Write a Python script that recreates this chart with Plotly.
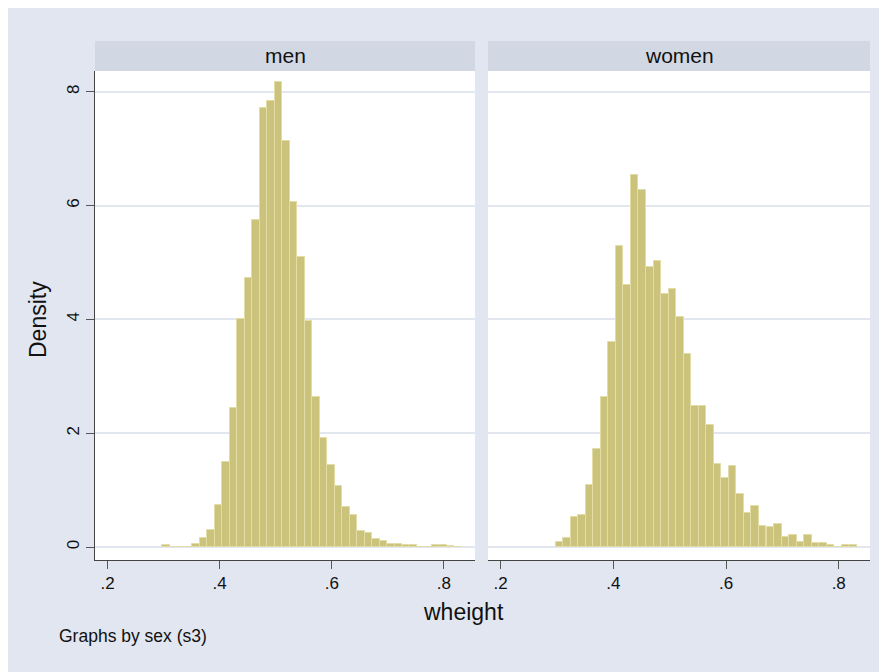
import plotly.graph_objects as go
from plotly.subplots import make_subplots

# histogram bins (common to both panels)
bin_width = 0.01337
bin_centers = [
    0.3042, 0.3176, 0.3309, 0.3443, 0.3577, 0.3710, 0.3844, 0.3978, 0.4111, 0.4245,
    0.4379, 0.4512, 0.4646, 0.4780, 0.4913, 0.5047, 0.5181, 0.5314, 0.5448, 0.5582,
    0.5715, 0.5849, 0.5983, 0.6116, 0.6250, 0.6384, 0.6517, 0.6651, 0.6785, 0.6918,
    0.7052, 0.7186, 0.7319, 0.7453, 0.7587, 0.7720, 0.7854, 0.7988, 0.8121, 0.8255,
]

men_density = [
    0.04, 0.0, 0.0, 0.0, 0.06, 0.15, 0.30, 0.73, 1.49, 2.45,
    4.00, 4.73, 5.75, 7.71, 7.84, 8.18, 7.14, 6.07, 5.10, 3.98,
    2.63, 1.92, 1.44, 1.08, 0.71, 0.57, 0.28, 0.24, 0.14, 0.10,
    0.05, 0.05, 0.04, 0.03, 0.0, 0.0, 0.04, 0.04, 0.02, 0.0,
]

women_density = [
    0.09, 0.16, 0.53, 0.56, 1.09, 1.72, 2.64, 3.61, 5.29, 4.60,
    6.53, 6.27, 4.92, 5.03, 4.45, 4.53, 4.04, 3.39, 2.48, 2.48,
    2.14, 1.46, 1.22, 1.43, 0.93, 0.59, 0.72, 0.37, 0.35, 0.40,
    0.18, 0.22, 0.09, 0.22, 0.065, 0.065, 0.035, 0.0, 0.04, 0.04,
]

panels = ["men", "women"]
x_ticks = [0.2, 0.4, 0.6, 0.8]
x_ticktext = [".2", ".4", ".6", ".8"]
y_ticks = [0, 2, 4, 6, 8]

W, H = 887, 672
OFF = 8  # page body margin
BG = "#E1E6F0"
STRIP = "#D2D8E3"
GRID = "#E1E6EF"
BAR = "#CBC37B"
BAR_EDGE = "#E2DCA6"
FONT = "Liberation Sans, Arial, sans-serif"


def px_x(p):
    return (p - OFF) / W


def px_y(p):
    return (H - (p - OFF)) / H


fig = make_subplots(rows=1, cols=2)

for i, dens in enumerate([men_density, women_density]):
    fig.add_trace(
        go.Bar(
            x=bin_centers, y=dens, width=bin_width,
            marker=dict(color=BAR, line=dict(color=BAR_EDGE, width=1)),
            showlegend=False, hoverinfo="x+y",
        ),
        row=1, col=i + 1,
    )

x_domains = [[px_x(95), px_x(475)], [px_x(488), px_x(870)]]
y_domain = [px_y(560), px_y(71)]

for i in range(2):
    fig.update_xaxes(
        domain=x_domains[i], range=[0.1775, 0.8555],
        tickvals=x_ticks, ticktext=x_ticktext,
        ticks="outside", ticklen=8, tickcolor="#555555", tickwidth=1,
        showline=True, linecolor="#444444", linewidth=1,
        showgrid=False, zeroline=False,
        tickfont=dict(family=FONT, size=17, color="#111111"),
        row=1, col=i + 1,
    )
    fig.update_yaxes(
        domain=y_domain, range=[-0.228, 8.365],
        tickvals=y_ticks, showgrid=True, gridcolor=GRID, gridwidth=1.5,
        zeroline=False,
        row=1, col=i + 1,
    )

fig.update_yaxes(
    ticks="outside", ticklen=8, tickcolor="#555555", tickwidth=1,
    showline=True, linecolor="#444444", linewidth=1,
    tickangle=-90, tickfont=dict(family=FONT, size=17, color="#111111"),
    row=1, col=1,
)
fig.update_yaxes(showticklabels=False, showline=False, ticks="", row=1, col=2)

shapes = []
annotations = []
for i, name in enumerate(panels):
    x0, x1 = x_domains[i]
    shapes.append(dict(
        type="rect", xref="paper", yref="paper", x0=x0, x1=x1,
        y0=px_y(71), y1=px_y(41), fillcolor=STRIP, line=dict(width=0),
        layer="below",
    ))
    # white plot area
    shapes.append(dict(
        type="rect", xref="paper", yref="paper", x0=x0, x1=x1,
        y0=y_domain[0], y1=y_domain[1], fillcolor="white", line=dict(width=0),
        layer="below",
    ))
    annotations.append(dict(
        text=name, xref="paper", yref="paper", x=(x0 + x1) / 2, y=px_y(56),
        xanchor="center", yanchor="middle", showarrow=False,
        font=dict(family=FONT, size=21, color="#111111"),
    ))

annotations += [
    dict(text="Density", xref="paper", yref="paper", x=px_x(38), y=px_y(320),
         xanchor="center", yanchor="middle", textangle=-90, showarrow=False,
         font=dict(family=FONT, size=23, color="#111111")),
    dict(text="wheight", xref="paper", yref="paper", x=px_x(464), y=px_y(612),
         xanchor="center", yanchor="middle", showarrow=False,
         font=dict(family=FONT, size=23, color="#111111")),
    dict(text="Graphs by sex (s3)", xref="paper", yref="paper", x=px_x(57), y=px_y(636),
         xanchor="left", yanchor="middle", showarrow=False,
         font=dict(family=FONT, size=17.5, color="#111111")),
]

fig.update_layout(
    width=W, height=H,
    margin=dict(l=0, r=0, t=0, b=0),
    paper_bgcolor=BG, plot_bgcolor="rgba(0,0,0,0)",
    bargap=0, shapes=shapes, annotations=annotations,
    font=dict(family=FONT),
)

fig.write_html("out.html")
